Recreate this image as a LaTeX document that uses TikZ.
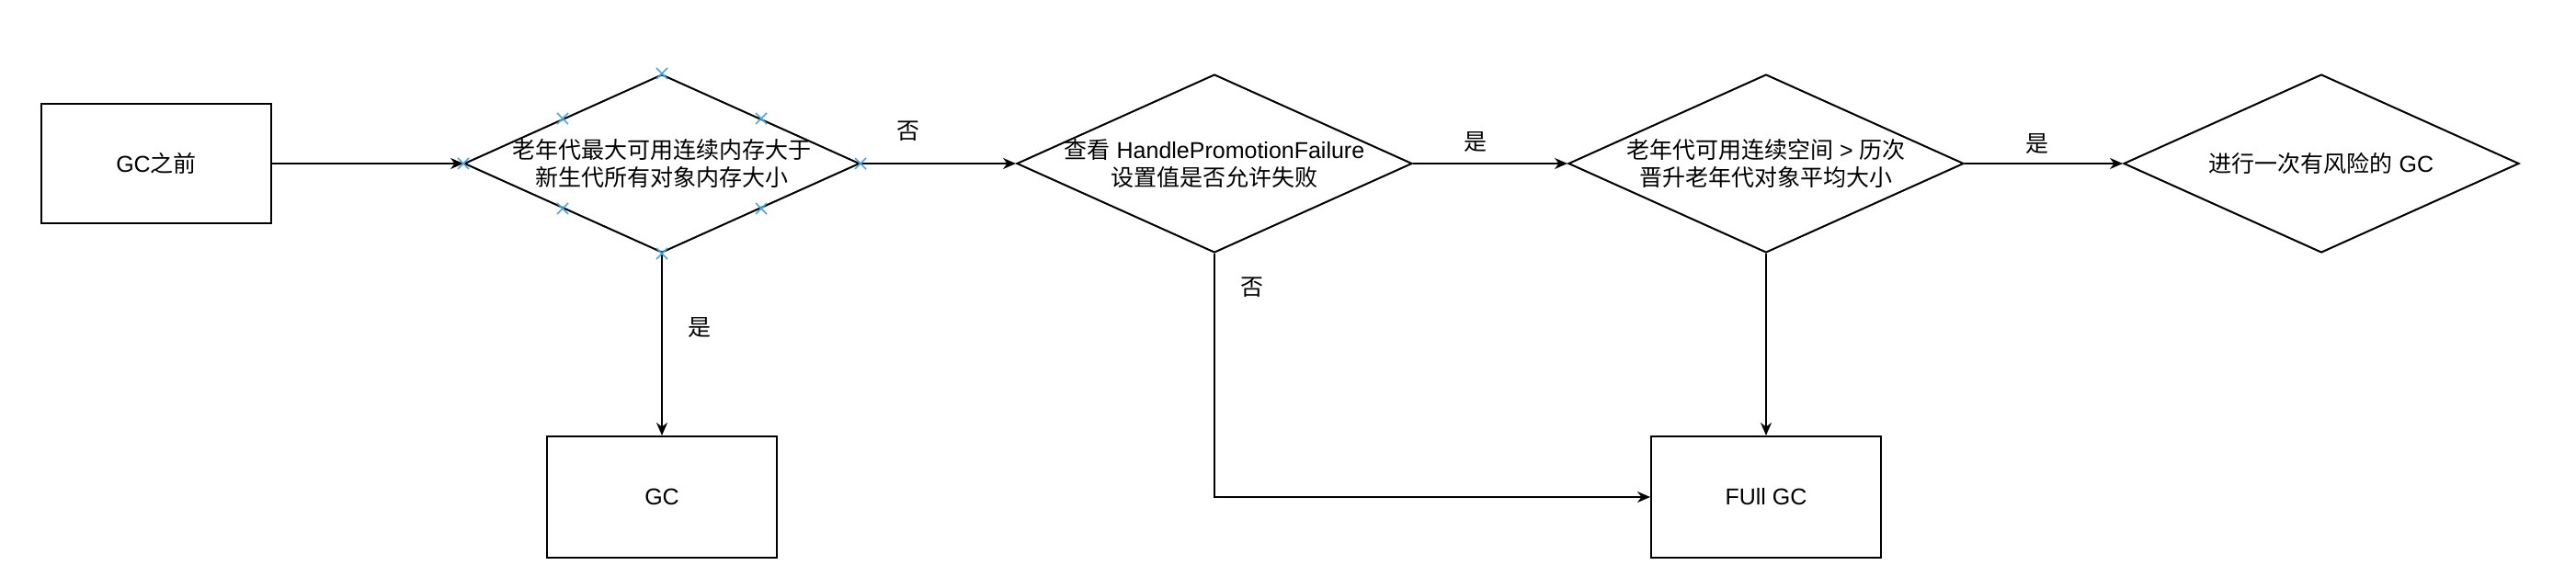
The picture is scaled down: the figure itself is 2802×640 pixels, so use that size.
\documentclass[tikz,border=0pt]{standalone}
\usepackage{fontspec}
\setmainfont{Liberation Sans}
\newfontfamily\cjk{Noto Sans CJK SC}
\usetikzlibrary{shapes.geometric,arrows.meta,calc}
\newcommand\dfont{\fontsize{12.5pt}{15pt}\selectfont}
\definecolor{mark}{RGB}{80,165,225}
\begin{document}
\begin{tikzpicture}[x=0.5pt,y=-0.5pt,
  every node/.style={font=\dfont, text=black},
  box/.style={draw, line width=1pt, minimum width=125pt, minimum height=65pt, inner sep=0pt},
  dia/.style={draw, diamond, line width=1pt, minimum width=215pt, minimum height=97pt, inner sep=0pt},
  txt/.style={align=center, inner sep=0pt},
  lbl/.style={inner sep=1pt, font=\dfont\cjk},
  arr/.style={draw, line width=1pt, -{Stealth[length=7pt,width=6pt]}},
  mk/.style={draw=mark, line width=0.8pt}
]
\useasboundingbox (0,0) rectangle (2802,640);

\node[box] (b0) at (170,178) {GC{\cjk 之前}};
\node[dia] (d1) at (720,178) {};
\node[txt, font=\dfont\cjk] (t1) at (d1.center) {老年代最大可用连续内存大于\\新生代所有对象内存大小};
\node[dia] (d2) at (1321,178) {};
\node[txt] (t2) at (d2.center) {{\cjk 查看} HandlePromotionFailure\\{\cjk 设置值是否允许失败}};
\node[dia] (d3) at (1921,178) {};
\node[txt] (t3) at (d3.center) {{\cjk 老年代可用连续空间} > {\cjk 历次}\\{\cjk 晋升老年代对象平均大小}};
\node[dia] (d4) at (2525,178) {};
\node[txt] (t4) at (d4.center) {{\cjk 进行一次有风险的} GC};

\node[box, minimum height=66pt] (gc) at (720,541) {GC};
\node[box, minimum height=66pt] (full) at (1921,541) {FUll GC};

\draw[arr] (b0.east) -- (d1.west);
\draw[arr] (d1.east) -- (d2.west);
\draw[arr] (d2.east) -- (d3.west);
\draw[arr] (d3.east) -- (d4.west);
\draw[arr] (d1.south) -- (gc.north);
\draw[arr] (d3.south) -- (full.north);
\draw[arr] (d2.south) |- (full.west);

\node[lbl] (l1) at (988,143) {否};
\node[lbl] (l2) at (1605,155) {是};
\node[lbl] (l3) at (2216,157) {是};
\node[lbl] (l4) at (761,357) {是};
\node[lbl] (l5) at (1362,313) {否};

\foreach \p in {(d1.north),(d1.south),(d1.west),(d1.east),
  ($(d1.north)!0.5!(d1.west)$),($(d1.north)!0.5!(d1.east)$),
  ($(d1.south)!0.5!(d1.west)$),($(d1.south)!0.5!(d1.east)$)}{
  \draw[mk] \p ++(-6,-6) -- ++(12,12) \p ++(-6,6) -- ++(12,-12);
}
\end{tikzpicture}
\end{document}
